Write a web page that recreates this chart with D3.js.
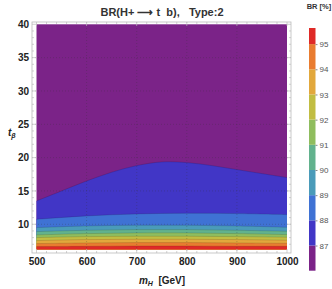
<!DOCTYPE html>
<html>
<head>
<meta charset="utf-8">
<script src="https://cdn.jsdelivr.net/npm/d3@7"></script>
<style>
  body { margin: 0; background: #fff; }
  text { font-family: "Liberation Sans", Arial, sans-serif; }
</style>
</head>
<body>
<div id="chart"></div>
<script>
// ---------------- data ----------------
const mH = [500, 600, 700, 800, 900, 1000];
const levels = [87, 88, 89, 90, 91, 92, 93, 94, 95];
// the 87% contour is read on a finer mH grid since it bends the most
const mH87 = [500, 550, 600, 650, 700, 750, 800, 850, 900, 950, 1000];
const c87 = [13.5, 15.0, 16.5, 17.8, 18.8, 19.35, 19.25, 18.8, 18.2, 17.6, 17.0];
// tan(beta) where each BR contour sits, read at the mH points above
const c88 = [10.75, 11.25, 11.55, 11.65, 11.6, 11.45];
const c89 = [9.5, 9.75, 9.85, 9.85, 9.75, 9.55];
const c90 = [8.9, 9.1, 9.2, 9.2, 9.1, 8.95];
const c91 = [8.4, 8.6, 8.7, 8.7, 8.6, 8.45];
const c92 = [8.0, 8.15, 8.2, 8.2, 8.15, 8.05];
const c93 = [7.55, 7.7, 7.75, 7.75, 7.7, 7.6];
const c94 = [7.1, 7.2, 7.25, 7.25, 7.2, 7.15];
const c95 = [6.65, 6.7, 6.75, 6.75, 6.7, 6.7];
const brRange = [86, 95.64];
const xTicks = [500, 600, 700, 800, 900, 1000];
const yTicks = [10, 15, 20, 25, 30, 35, 40];
// band colours, lowest BR first
const colors = ["#7b2388", "#4136c6", "#3f72d4", "#4a9bb9", "#62b28d",
                "#8fbd5e", "#c1bd42", "#e2a83c", "#e97c30", "#df2a27"];

const contours = [
    { xs: mH87, ys: c87 }, { xs: mH, ys: c88 }, { xs: mH, ys: c89 },
    { xs: mH, ys: c90 }, { xs: mH, ys: c91 }, { xs: mH, ys: c92 },
    { xs: mH, ys: c93 }, { xs: mH, ys: c94 }, { xs: mH, ys: c95 }
];

// ---------------- setup ----------------
const W = 332, H = 289;
const frame = { left: 32, right: 291, top: 22, bottom: 253 };
const svg = d3.select("#chart").append("svg")
    .attr("width", W).attr("height", H);

const x = d3.scaleLinear().domain([500, 1000]).range([36.5, 287]);
const y = d3.scaleLinear().domain([6.2, 40]).range([249.6, 24.3]);

// ---------------- contour bands ----------------
svg.append("rect")
    .attr("x", x(500)).attr("y", y(40))
    .attr("width", x(1000) - x(500)).attr("height", y(6.2) - y(40))
    .attr("fill", colors[0]);

contours.forEach((c, k) => {
    const pts = c.xs.map((v, i) => [v, c.ys[i]]);
    const area = d3.area()
        .x(d => x(d[0])).y0(y(6.2)).y1(d => y(d[1]))
        .curve(d3.curveCatmullRom);
    const line = d3.line()
        .x(d => x(d[0])).y(d => y(d[1]))
        .curve(d3.curveCatmullRom);
    svg.append("path").attr("d", area(pts)).attr("fill", colors[k + 1]);
    svg.append("path").attr("d", line(pts)).attr("fill", "none")
        .attr("stroke", "#000").attr("stroke-opacity", 0.18).attr("stroke-width", 0.7);
});

// ---------------- grid ----------------
const grid = svg.append("g").attr("stroke", "#333").attr("stroke-opacity", 0.45)
    .attr("stroke-width", 0.6).attr("stroke-dasharray", "1,2");
xTicks.slice(1, -1).forEach(v => grid.append("line")
    .attr("x1", x(v)).attr("x2", x(v)).attr("y1", frame.top).attr("y2", frame.bottom));
yTicks.slice(0, -1).forEach(v => grid.append("line")
    .attr("x1", frame.left).attr("x2", frame.right).attr("y1", y(v)).attr("y2", y(v)));

// ---------------- frame + ticks ----------------
svg.append("rect")
    .attr("x", frame.left).attr("y", frame.top)
    .attr("width", frame.right - frame.left).attr("height", frame.bottom - frame.top)
    .attr("fill", "none").attr("stroke", "#bbb").attr("stroke-width", 0.8);

const tk = svg.append("g").attr("stroke", "#bbb").attr("stroke-width", 0.7);
d3.range(500, 1001, 20).forEach(v => {
    const len = v % 100 === 0 ? 4 : 2;
    tk.append("line").attr("x1", x(v)).attr("x2", x(v)).attr("y1", frame.bottom).attr("y2", frame.bottom - len);
    tk.append("line").attr("x1", x(v)).attr("x2", x(v)).attr("y1", frame.top).attr("y2", frame.top + len);
});
d3.range(7, 41, 1).forEach(v => {
    const len = v % 5 === 0 ? 4 : 2;
    tk.append("line").attr("y1", y(v)).attr("y2", y(v)).attr("x1", frame.left).attr("x2", frame.left + len);
    tk.append("line").attr("y1", y(v)).attr("y2", y(v)).attr("x1", frame.right).attr("x2", frame.right - len);
});

// ---------------- axes labels ----------------
const xAxis = svg.append("g")
    .attr("transform", "translate(0," + frame.bottom + ")")
    .call(d3.axisBottom(x).tickValues(xTicks).tickSize(0).tickPadding(5).tickFormat(d3.format("d")));
const yAxis = svg.append("g")
    .attr("transform", "translate(" + frame.left + ",0)")
    .call(d3.axisLeft(y).tickValues(yTicks).tickSize(0).tickPadding(3).tickFormat(d3.format("d")));
[xAxis, yAxis].forEach(a => {
    a.select(".domain").remove();
    a.selectAll("text").attr("font-size", 10).attr("font-weight", "bold")
        .attr("fill", "#222").style("font-family", "'Liberation Sans', Arial, sans-serif");
});

svg.append("text")
    .attr("x", 162).attr("y", 284).attr("text-anchor", "middle")
    .attr("font-size", 10).attr("font-weight", "bold").attr("fill", "#222")
    .html('<tspan font-style="italic">m</tspan><tspan font-style="italic" font-size="7" dy="2">H</tspan><tspan dy="-2">\u00a0\u00a0[GeV]</tspan>');

svg.append("text")
    .attr("x", 8).attr("y", 136)
    .attr("font-size", 10).attr("font-weight", "bold").attr("fill", "#222")
    .html('<tspan font-style="italic">t</tspan><tspan font-style="italic" font-size="7" dy="2">β</tspan>');

svg.append("text")
    .attr("x", 162).attr("y", 16).attr("text-anchor", "middle")
    .attr("font-size", 11).attr("font-weight", "bold").attr("fill", "#333")
    .text("BR(H+ ⟶ t\u00a0\u00a0b),\u00a0\u00a0\u00a0Type:2");

// ---------------- colour bar ----------------
const cy = d3.scaleLinear().domain(brRange).range([270.7, 28]);
const bar = svg.append("g");
const edges = [brRange[0]].concat(levels, [brRange[1]]);
colors.forEach((c, i) => {
    bar.append("rect")
        .attr("x", 309).attr("width", 6.5)
        .attr("y", cy(edges[i + 1])).attr("height", cy(edges[i]) - cy(edges[i + 1]))
        .attr("fill", c);
});
const cAxis = svg.append("g")
    .attr("transform", "translate(315.5,0)")
    .call(d3.axisRight(cy).tickValues(levels).tickSize(2).tickPadding(2));
cAxis.select(".domain").remove();
cAxis.selectAll("line").attr("stroke", "#888");
cAxis.selectAll("text").attr("font-size", 8).attr("fill", "#555")
    .style("font-family", "'Liberation Sans', Arial, sans-serif");

svg.append("text")
    .attr("x", 319).attr("y", 9).attr("text-anchor", "middle")
    .attr("font-size", 7.5).attr("font-weight", "bold").attr("fill", "#333")
    .text("BR [%]");
</script>
</body>
</html>
